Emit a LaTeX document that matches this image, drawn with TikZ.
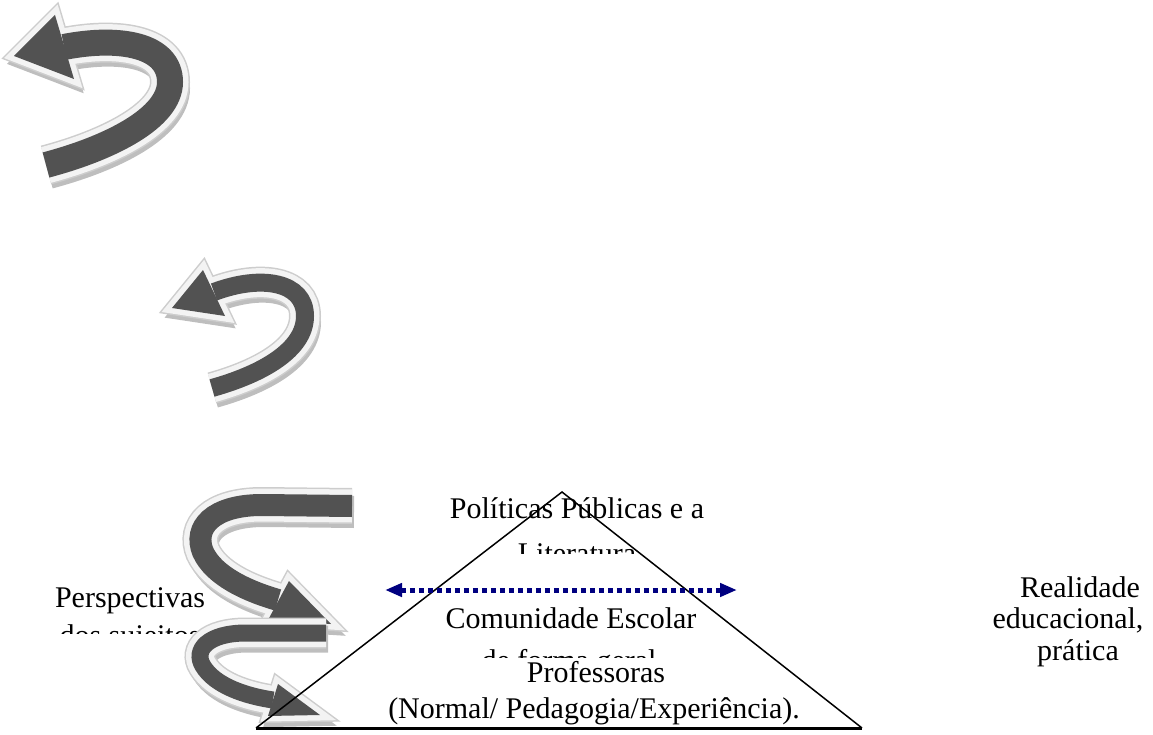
\documentclass[tikz,border=0pt]{standalone}
\usepackage{fontspec}
\setmainfont{Liberation Serif}
\usetikzlibrary{arrows.meta}

\definecolor{ribdark}{RGB}{82,82,82}
\definecolor{ribrim}{RGB}{243,243,243}
\definecolor{ribline}{RGB}{205,205,205}
\definecolor{ribshade}{RGB}{190,190,190}
\definecolor{navyline}{RGB}{0,0,128}

\tikzset{
  txt/.style={font=\fontsize{30}{36}\selectfont, anchor=base, inner sep=0pt},
  side/.style={line width=1.5pt},
  baseline/.style={line width=3pt},
  twoway/.style={navyline, line width=5pt, dash pattern=on 5pt off 4pt,
    {Triangle[length=17pt,width=13pt]}-{Triangle[length=17pt,width=13pt]}}
}

% curved ribbon arrow: #1 shaft path, #2 head corners, #3 width
\newcommand{\ribbon}[3]{%
  \begin{scope}[shift={(2,6)}]
    \draw[ribshade,line width=#3+10pt] #1;
    \filldraw[ribshade,line width=10pt] #2 -- cycle;
  \end{scope}
  \draw[ribline,line width=#3+14pt] #1;
  \draw[ribline,line width=14pt] #2 -- cycle;
  \draw[ribrim,line width=#3+11pt] #1;
  \filldraw[ribrim,line width=11pt] #2 -- cycle;
  \draw[ribdark,line width=#3] #1;
  \fill[ribdark] #2 -- cycle;
}

\begin{document}
\begin{tikzpicture}[x=1pt,y=-1pt]
\useasboundingbox (0,0) rectangle (1153,735);

% texts
\node[txt] (pol) at (577,518) {Políticas Públicas e a};
\begin{scope}
\clip (0,0) rectangle (1153,553);
\node[txt] (lit) at (577,563) {Literatura};
\end{scope}
\node[txt] (com) at (571,628) {Comunidade Escolar};
\begin{scope}
\clip (0,0) rectangle (1153,657);
\node[txt] (ger) at (569,670) {de forma geral};
\end{scope}
\node[txt] (prof) at (596,682) {Professoras};
\begin{scope}
\clip (0,0) rectangle (1153,727);
\node[txt] (norm) at (594,718) {(Normal/ Pedagogia/Experiência).};
\end{scope}
\node[txt] (persp) at (130,607) {Perspectivas};
\begin{scope}
\clip (0,0) rectangle (1153,633);
\node[txt] (suj) at (130,645) {dos sujeitos};
\end{scope}
\node[txt] (real) at (1080,597) {Realidade};
\node[txt] (edu) at (1068,628) {educacional,};
\node[txt] (prat) at (1078,660) {prática};

% ribbon arrows
\ribbon{(46,165) .. controls (110,148) and (170,118) .. (170,82) .. controls (170,45) and (120,36) .. (64,47)}
  {(14,56) -- (55,15) -- (74,79)}{26pt}
\ribbon{(212,388) .. controls (262,374) and (305,350) .. (305,316) .. controls (305,282) and (262,274) .. (214,292)}
  {(172,308) -- (203,270) -- (225,316)}{18pt}
\ribbon{(352,506) -- (262,505) .. controls (212,505) and (193,528) .. (203,552) .. controls (214,576) and (247,591) .. (278,600)}
  {(331,624) -- (289,581) -- (268,620)}{22pt}
\ribbon{(326,633) -- (246,633) .. controls (208,633) and (193,650) .. (203,666) .. controls (215,686) and (246,696) .. (273,700)}
  {(320,715) -- (278,684) -- (268,716)}{17pt}

% triangle
\coordinate (apex) at (562,492);
\coordinate (lft) at (256,728);
\coordinate (rgt) at (862,728);
\draw[side] (lft) -- (apex) -- (rgt);
\draw[baseline] (lft) -- (rgt);

% dotted double arrow
\coordinate (dl) at (385,590);
\coordinate (dr) at (737,590);
\draw[twoway] (dl) -- (dr);
\end{tikzpicture}
\end{document}
